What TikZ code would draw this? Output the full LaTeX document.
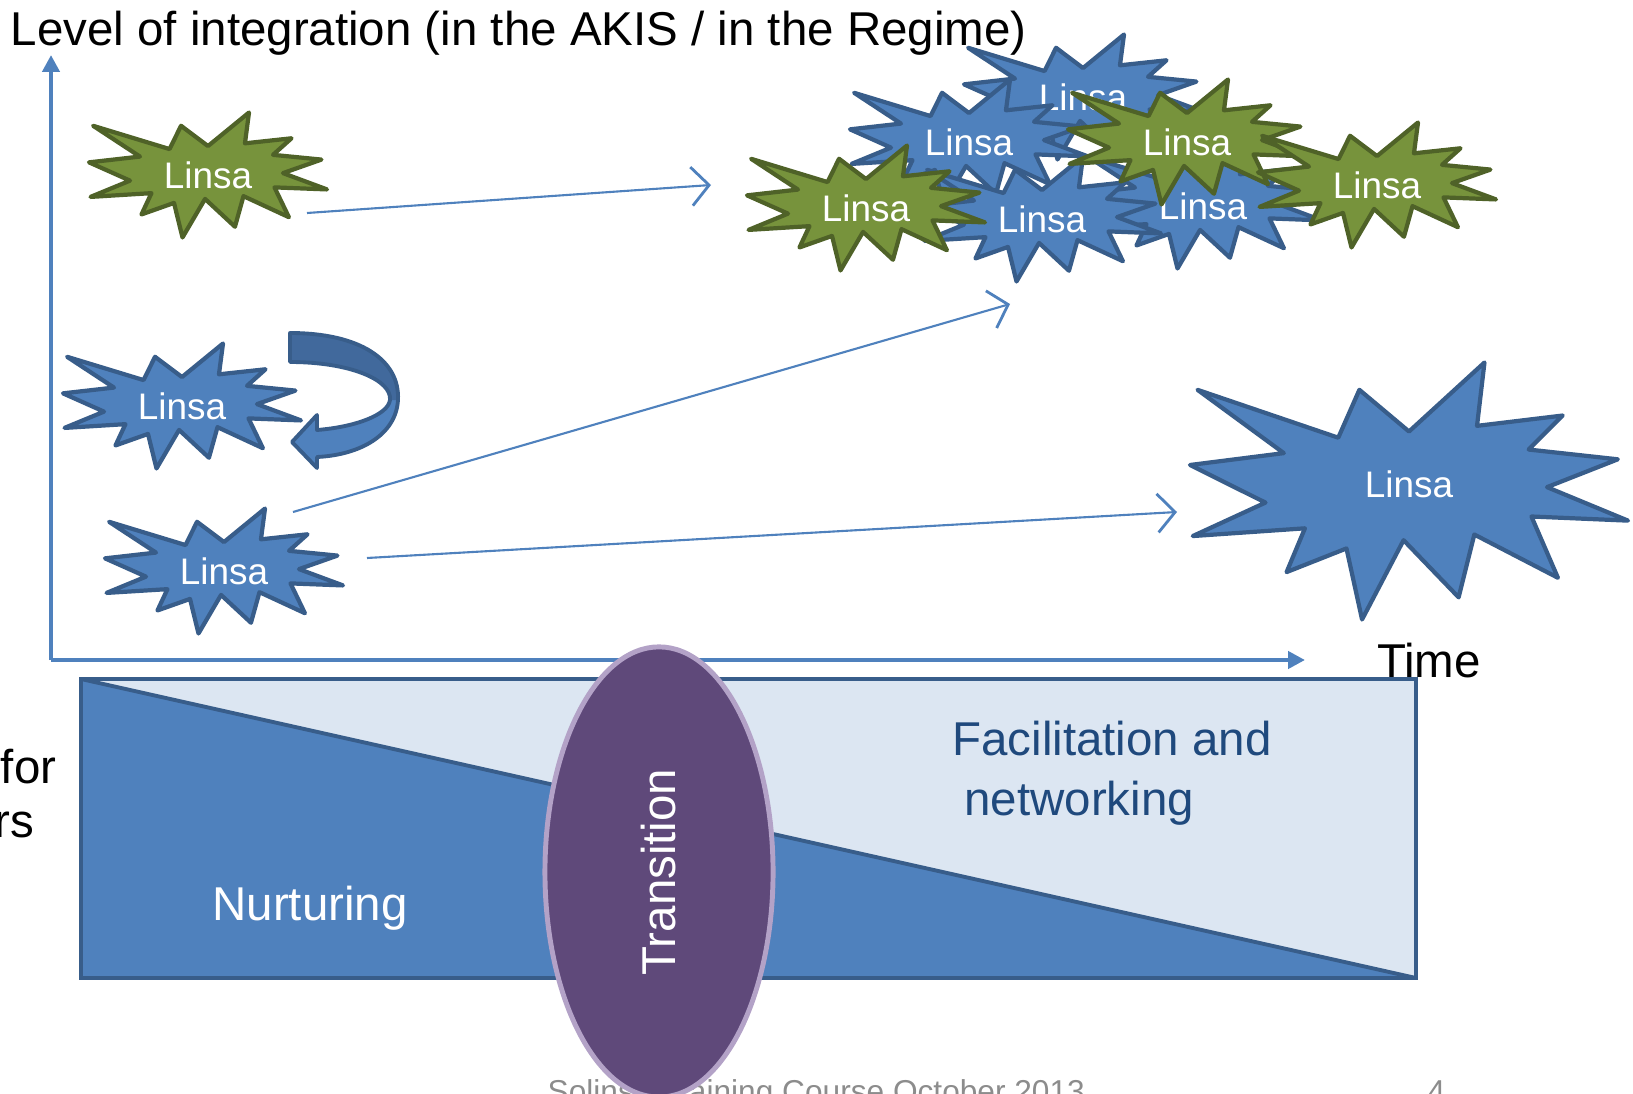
\documentclass[tikz,border=0pt]{standalone}
\usepackage{fontspec}
\setmainfont{Liberation Sans}
\usetikzlibrary{arrows.meta,shapes.geometric}
\definecolor{linsablue}{HTML}{4F81BD}
\definecolor{linsaedge}{HTML}{385D8A}
\definecolor{linsagreen}{HTML}{77933C}
\definecolor{greenedge}{HTML}{4F6228}
\definecolor{paleblue}{HTML}{DCE6F2}
\definecolor{navytext}{HTML}{1F497D}
\definecolor{transfill}{HTML}{5F497A}
\definecolor{transedge}{HTML}{B3A2C7}
\definecolor{loopdark}{HTML}{41699C}
\definecolor{footgray}{HTML}{8C8C8C}

% explosion outline, drawn into a w x h box round (x,y)
\newcommand{\linsaburst}[7][0]{%
  \begin{scope}[shift={(#4-#6/2,#5-#7/2)},xscale=#6/100,yscale=#7/100]
    \draw[#3] (50,26.85) -- (67.23,0) -- (65.53,24.65) -- (85.09,20.63) -- (77.32,33.87)
      -- (97.67,37.67) -- (81.51,48.50) -- (100,61.53) -- (77.95,59.92) -- (84,83.77)
      -- (64.91,66.93) -- (61.33,91.38) -- (48.76,69.14) -- (39.28,100) -- (35.72,72.35)
      -- (22.05,81.56) -- (26.24,64.52) -- (0.63,67.53) -- (17.23,54.51) -- (0,39.88)
      -- (21.42,35.26) -- (1.71,10.63) -- (33.85,29.26) -- (38.67,10.63) -- cycle;
  \end{scope}
  \node[linsa] (#2) at (#4,#5+#1) {Linsa};}

\begin{document}
\begin{tikzpicture}[x=0.01cm,y=-0.01cm,
    blueburst/.style={fill=linsablue,draw=linsaedge,line width=1.2pt,line join=round},
    greenburst/.style={fill=linsagreen,draw=greenedge,line width=1.2pt,line join=round},
    linsa/.style={text=white,font=\fontsize{10.5}{12}\selectfont,inner sep=0pt},
    big/.style={font=\fontsize{13.5}{17}\selectfont,inner sep=0pt},
    axis/.style={linsablue,line width=1.4pt,-{Triangle[length=4.8pt,width=4.8pt]}},
    trend/.style={linsablue,line width=0.6pt,-{Straight Barb[length=5pt,width=11pt,line width=0.8pt]}},
    transition/.style={ellipse,fill=transfill,draw=transedge,line width=1.4pt,
      minimum width=4.5cm,minimum height=2.28cm,text=white,font=\fontsize{13.5}{17}\selectfont}]
  \useasboundingbox (0,0) rectangle (1633,1094);

  \node[big,anchor=west] (level) at (10,33) {Level of integration (in the AKIS / in the Regime)};
  \node[big] (time) at (1429,661) {Time};
  \node[big,anchor=east] (fortext) at (57,767) {for};
  \node[big,anchor=east] (rstext) at (35,825) {rs};

  \coordinate (origin) at (51,660);
  \coordinate (ytip) at (51,55);
  \coordinate (xtip) at (1305,660);
  \draw[axis] (origin) -- (ytip);
  \draw[axis] (origin) -- (xtip);

  \fill[paleblue] (81,679) rectangle (1416,978);
  \fill[linsablue] (81,679) -- (1416,978) -- (81,978) -- cycle;
  \draw[linsaedge,line width=1.1pt] (81,679) -- (1416,978);
  \draw[linsaedge,line width=1.1pt] (81,679) rectangle (1416,978);
  \node[big,text=white] (nurture) at (310,908) {Nurturing};
  \node[big,text=navytext,align=left] (facil) at (1112,773) {Facilitation and\\\hspace{0.12cm}networking};

  \linsaburst{topleft}{greenburst}{208}{175}{238}{125}
  \linsaburst{midleft}{blueburst}{182}{406}{238}{125}
  \linsaburst{lowleft}{blueburst}{224}{571}{238}{125}
  \linsaburst[-7]{grown}{blueburst}{1409}{491}{438}{257}

  \linsaburst{netT}{blueburst}{1083}{97}{238}{125}
  \linsaburst{netA}{blueburst}{969}{142}{238}{125}
  \linsaburst{netC}{blueburst}{1203}{206}{238}{125}
  \linsaburst{netB}{blueburst}{1042}{219}{238}{125}
  \linsaburst{netE}{greenburst}{866}{208}{238}{125}
  \linsaburst{netD}{greenburst}{1187}{142}{238}{125}
  \linsaburst{netF}{greenburst}{1377}{185}{238}{125}

  \fill[linsablue] (290,333) .. controls (360,333) and (400,360) .. (398,400)
    .. controls (396,435) and (360,455) .. (317,457) -- (317,468) -- (292,442)
    -- (317,415) -- (317,430) .. controls (355,427) and (388,415) .. (390,400)
    .. controls (392,380) and (350,362) .. (290,362) -- cycle;
  \fill[loopdark] (290,333) .. controls (360,333) and (400,360) .. (398,400)
    -- (390,400) .. controls (392,380) and (350,362) .. (290,362) -- cycle;
  \draw[linsaedge,line width=1.1pt,line join=round] (290,333) .. controls (360,333) and (400,360) .. (398,400)
    .. controls (396,435) and (360,455) .. (317,457) -- (317,468) -- (292,442)
    -- (317,415) -- (317,430) .. controls (355,427) and (388,415) .. (390,400)
    .. controls (392,380) and (350,362) .. (290,362) -- cycle;

  \coordinate (upfrom) at (307,213);
  \coordinate (upto) at (711,185);
  \coordinate (joinfrom) at (293,512);
  \coordinate (jointo) at (1010,304);
  \coordinate (growfrom) at (367,558);
  \coordinate (growto) at (1177,512);
  \draw[trend] (upfrom) -- (upto);
  \draw[trend] (joinfrom) -- (jointo);
  \draw[trend] (growfrom) -- (growto);

  \node[text=footgray,font=\fontsize{9}{11}\selectfont,anchor=base west,inner sep=0pt] (foot) at (547,1102) {Solinsa Training Course October 2013};
  \node[text=footgray,font=\fontsize{9}{11}\selectfont,anchor=base west,inner sep=0pt] (page) at (1427,1102) {4};
  \node[transition,rotate=90] (trans) at (659,872) {Transition};
\end{tikzpicture}
\end{document}
